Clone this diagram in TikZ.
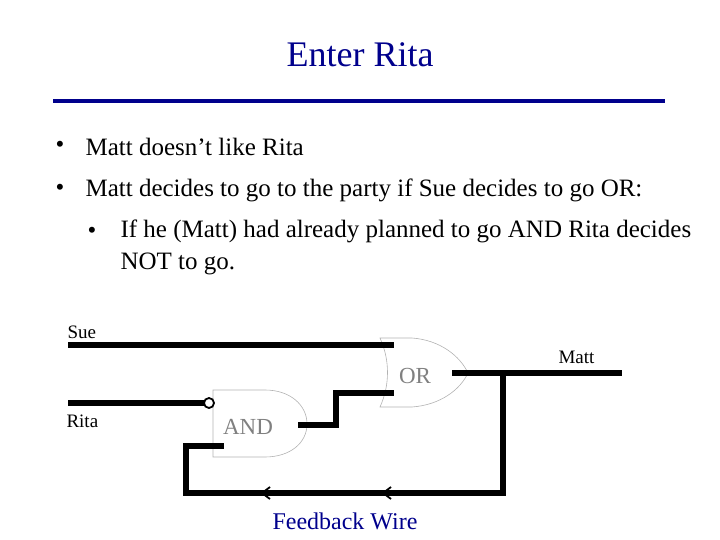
\documentclass[tikz,border=0pt]{standalone}
\usepackage{fontspec}
\setmainfont{Liberation Serif}
\begin{document}
\begin{tikzpicture}[x=1pt,y=-1pt,
  wire/.style={line width=5.5pt},
  gate/.style={draw=black!30,line width=0.6pt},
  gtext/.style={text=black!50,font=\fontsize{23}{26}\selectfont},
  lbl/.style={font=\fontsize{19}{22}\selectfont,anchor=west},
  body/.style={anchor=west,font=\fontsize{25}{32}\selectfont,align=left},
  chev/.style={line width=1.8pt}]
\useasboundingbox (0,0) rectangle (720,540);
\definecolor{navy}{RGB}{0,0,140}
\node[text=navy,font=\fontsize{36}{40}\selectfont] (title) at (360,55) {Enter Rita};
\draw[navy,line width=4pt] (53,101) coordinate (r1) -- (665,101) coordinate (r2);
\node[body] (b1) at (52,147) {•};
\node[body] (t1) at (82,147) {Matt doesn’t like Rita};
\node[body] (b2) at (52,190) {•};
\node[body] (t2) at (82,190) {Matt decides to go to the party if Sue decides to go OR:};
\node[body] (b3) at (84,233) {•};
\node[body,anchor=north west] (t3) at (117,216) {If he (Matt) had already planned to go AND Rita decides\\NOT to go.};
% OR gate
\draw[gate] (380,338) .. controls (390,360) and (390,385) .. (380,407)
  -- (412,407) .. controls (440,405) and (460,390) .. (468,373)
  .. controls (460,356) and (440,340) .. (412,338) -- cycle;
\node[gtext] (ortext) at (415,376) {OR};
% AND gate
\draw[gate] (213,390) -- (265,390) .. controls (290,390) and (307,405) .. (307,424)
  .. controls (307,443) and (290,457) .. (265,457) -- (213,457) -- cycle;
\node[gtext] (andtext) at (248,427) {AND};
% wires
\coordinate (sueL) at (68,345); \coordinate (sueR) at (394,345);
\draw[wire] (sueL) -- (sueR);
\coordinate (ritaL) at (68,403); \coordinate (ritaR) at (204,403);
\draw[wire] (ritaL) -- (ritaR);
\node[circle,draw,line width=1.8pt,fill=white,minimum size=10pt,inner sep=0pt] (bub) at (209,403) {};
\coordinate (ao) at (298,425); \coordinate (oi) at (394,393);
\draw[wire] (ao) -- (336,425) -- (336,393) -- (oi);
\coordinate (oo) at (452,373); \coordinate (mattR) at (622,373);
\draw[wire] (oo) -- (mattR);
\coordinate (ai) at (224,446);
\draw[wire] (503,373) -- (503,493) -- (186,493) -- (186,446) -- (ai);
\draw[chev] (270,487) -- (262,493) -- (270,499);
\draw[chev] (391,487) -- (383,493) -- (391,499);
\node[lbl] (sue) at (64,332) {Sue};
\node[lbl] (rita) at (63,421) {Rita};
\node[lbl] (matt) at (555,357) {Matt};
\node[text=navy,font=\fontsize{24}{28}\selectfont] (fb) at (345,521) {Feedback Wire};
\end{tikzpicture}
\end{document}
